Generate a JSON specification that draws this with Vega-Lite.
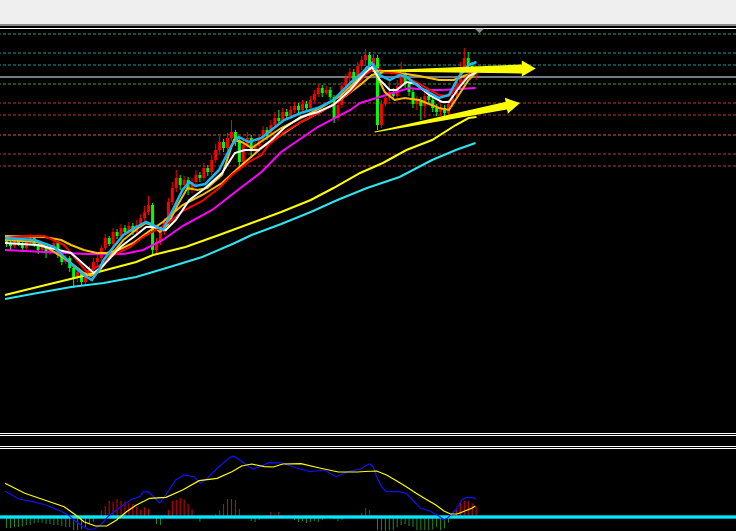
{
"$schema": "https://vega.github.io/schema/vega-lite/v6.json",
"width": 736, "height": 507,
"autosize": {"type": "none"},
"padding": {"top": 24, "left": 0, "right": 0, "bottom": 0},
"background": "#efefef",
"config": {"view": {"fill": "#000000", "stroke": null}, "axis": {"disable": true}},
"datasets": {
"candles": [
{"k":0,"o":1760,"h":1763,"l":1753,"c":1757},{"k":1,"o":1757,"h":1759,"l":1750,"c":1754},{"k":2,"o":1754,"h":1764,"l":1752,"c":1760},{"k":3,"o":1760,"h":1762,"l":1754,"c":1756},{"k":4,"o":1756,"h":1758,"l":1748,"c":1752},{"k":5,"o":1752,"h":1761,"l":1750,"c":1758},{"k":6,"o":1758,"h":1766,"l":1756,"c":1762},{"k":7,"o":1762,"h":1764,"l":1753,"c":1756},{"k":8,"o":1756,"h":1758,"l":1746,"c":1750},{"k":9,"o":1750,"h":1757,"l":1748,"c":1754},
{"k":10,"o":1754,"h":1756,"l":1742,"c":1748},{"k":11,"o":1748,"h":1755,"l":1745,"c":1753},{"k":12,"o":1753,"h":1760,"l":1751,"c":1757},{"k":13,"o":1757,"h":1759,"l":1742,"c":1745},{"k":14,"o":1745,"h":1748,"l":1735,"c":1738},{"k":15,"o":1738,"h":1745,"l":1736,"c":1742},{"k":16,"o":1742,"h":1744,"l":1728,"c":1732},{"k":17,"o":1732,"h":1735,"l":1712,"c":1722},{"k":18,"o":1722,"h":1732,"l":1718,"c":1728},{"k":19,"o":1728,"h":1730,"l":1715,"c":1718},
{"k":20,"o":1718,"h":1728,"l":1715,"c":1725},{"k":21,"o":1725,"h":1734,"l":1722,"c":1730},{"k":22,"o":1730,"h":1742,"l":1727,"c":1738},{"k":23,"o":1738,"h":1748,"l":1735,"c":1742},{"k":24,"o":1742,"h":1755,"l":1738,"c":1752},{"k":25,"o":1752,"h":1766,"l":1750,"c":1762},{"k":26,"o":1762,"h":1764,"l":1754,"c":1756},{"k":27,"o":1756,"h":1772,"l":1753,"c":1768},{"k":28,"o":1768,"h":1771,"l":1761,"c":1764},{"k":29,"o":1764,"h":1776,"l":1761,"c":1772},
{"k":30,"o":1772,"h":1775,"l":1765,"c":1768},{"k":31,"o":1768,"h":1778,"l":1766,"c":1774},{"k":32,"o":1774,"h":1777,"l":1765,"c":1768},{"k":33,"o":1768,"h":1780,"l":1766,"c":1775},{"k":34,"o":1775,"h":1786,"l":1772,"c":1782},{"k":35,"o":1782,"h":1794,"l":1779,"c":1788},{"k":36,"o":1788,"h":1804,"l":1785,"c":1795},{"k":37,"o":1795,"h":1797,"l":1745,"c":1750},{"k":38,"o":1750,"h":1762,"l":1746,"c":1758},{"k":39,"o":1758,"h":1772,"l":1755,"c":1768},
{"k":40,"o":1768,"h":1782,"l":1765,"c":1778},{"k":41,"o":1778,"h":1802,"l":1775,"c":1798},{"k":42,"o":1798,"h":1818,"l":1795,"c":1812},{"k":43,"o":1812,"h":1830,"l":1808,"c":1822},{"k":44,"o":1822,"h":1825,"l":1810,"c":1815},{"k":45,"o":1815,"h":1824,"l":1812,"c":1820},{"k":46,"o":1820,"h":1823,"l":1805,"c":1810},{"k":47,"o":1810,"h":1822,"l":1807,"c":1818},{"k":48,"o":1818,"h":1830,"l":1815,"c":1825},{"k":49,"o":1825,"h":1828,"l":1818,"c":1822},
{"k":50,"o":1822,"h":1837,"l":1819,"c":1832},{"k":51,"o":1832,"h":1835,"l":1824,"c":1828},{"k":52,"o":1828,"h":1845,"l":1825,"c":1840},{"k":53,"o":1840,"h":1856,"l":1837,"c":1850},{"k":54,"o":1850,"h":1864,"l":1847,"c":1858},{"k":55,"o":1858,"h":1861,"l":1848,"c":1852},{"k":56,"o":1852,"h":1867,"l":1849,"c":1862},{"k":57,"o":1862,"h":1880,"l":1859,"c":1868},{"k":58,"o":1868,"h":1870,"l":1854,"c":1860},{"k":59,"o":1860,"h":1862,"l":1832,"c":1838},
{"k":60,"o":1838,"h":1860,"l":1835,"c":1855},{"k":61,"o":1855,"h":1868,"l":1852,"c":1862},{"k":62,"o":1862,"h":1865,"l":1842,"c":1850},{"k":63,"o":1850,"h":1858,"l":1846,"c":1854},{"k":64,"o":1854,"h":1865,"l":1850,"c":1860},{"k":65,"o":1860,"h":1874,"l":1857,"c":1870},{"k":66,"o":1870,"h":1873,"l":1860,"c":1864},{"k":67,"o":1864,"h":1880,"l":1861,"c":1875},{"k":68,"o":1875,"h":1888,"l":1872,"c":1882},{"k":69,"o":1882,"h":1890,"l":1876,"c":1879},
{"k":70,"o":1879,"h":1892,"l":1877,"c":1888},{"k":71,"o":1888,"h":1891,"l":1880,"c":1884},{"k":72,"o":1884,"h":1894,"l":1881,"c":1890},{"k":73,"o":1890,"h":1898,"l":1887,"c":1894},{"k":74,"o":1894,"h":1897,"l":1887,"c":1890},{"k":75,"o":1890,"h":1900,"l":1887,"c":1896},{"k":76,"o":1896,"h":1899,"l":1888,"c":1892},{"k":77,"o":1892,"h":1904,"l":1889,"c":1900},{"k":78,"o":1900,"h":1910,"l":1897,"c":1906},{"k":79,"o":1906,"h":1916,"l":1903,"c":1912},
{"k":80,"o":1912,"h":1915,"l":1903,"c":1907},{"k":81,"o":1907,"h":1914,"l":1905,"c":1910},{"k":82,"o":1910,"h":1913,"l":1900,"c":1903},{"k":83,"o":1903,"h":1905,"l":1877,"c":1882},{"k":84,"o":1882,"h":1900,"l":1879,"c":1895},{"k":85,"o":1895,"h":1918,"l":1892,"c":1914},{"k":86,"o":1914,"h":1926,"l":1911,"c":1922},{"k":87,"o":1922,"h":1932,"l":1918,"c":1928},{"k":88,"o":1928,"h":1931,"l":1916,"c":1920},{"k":89,"o":1920,"h":1938,"l":1917,"c":1934},
{"k":90,"o":1934,"h":1944,"l":1930,"c":1940},{"k":91,"o":1940,"h":1951,"l":1936,"c":1945},{"k":92,"o":1945,"h":1948,"l":1930,"c":1934},{"k":93,"o":1934,"h":1946,"l":1930,"c":1942},{"k":94,"o":1942,"h":1945,"l":1870,"c":1875},{"k":95,"o":1875,"h":1900,"l":1872,"c":1896},{"k":96,"o":1896,"h":1906,"l":1893,"c":1902},{"k":97,"o":1902,"h":1920,"l":1899,"c":1908},{"k":98,"o":1908,"h":1912,"l":1900,"c":1904},{"k":99,"o":1904,"h":1920,"l":1901,"c":1914},
{"k":100,"o":1914,"h":1938,"l":1911,"c":1925},{"k":101,"o":1925,"h":1928,"l":1912,"c":1916},{"k":102,"o":1916,"h":1919,"l":1904,"c":1908},{"k":103,"o":1908,"h":1911,"l":1892,"c":1896},{"k":104,"o":1896,"h":1904,"l":1890,"c":1900},{"k":105,"o":1900,"h":1903,"l":1880,"c":1894},{"k":106,"o":1894,"h":1908,"l":1882,"c":1904},{"k":107,"o":1904,"h":1907,"l":1896,"c":1900},{"k":108,"o":1900,"h":1902,"l":1888,"c":1892},{"k":109,"o":1892,"h":1896,"l":1884,"c":1888},
{"k":110,"o":1888,"h":1896,"l":1884,"c":1892},{"k":111,"o":1892,"h":1895,"l":1883,"c":1887},{"k":112,"o":1887,"h":1900,"l":1882,"c":1896},{"k":113,"o":1896,"h":1910,"l":1893,"c":1905},{"k":114,"o":1905,"h":1922,"l":1902,"c":1918},{"k":115,"o":1918,"h":1938,"l":1915,"c":1930},{"k":116,"o":1930,"h":1952,"l":1928,"c":1942},{"k":117,"o":1942,"h":1948,"l":1930,"c":1934},{"k":118,"o":1934,"h":1938,"l":1922,"c":1926},{"k":119,"o":1926,"h":1934,"l":1920,"c":1930}
],
"levels": [
{"lv":1966,"kind":"a"},{"lv":1947,"kind":"b"},{"lv":1935,"kind":"b"},{"lv":1916,"kind":"c"},{"lv":1897,"kind":"d"},{"lv":1885,"kind":"d"},{"lv":1865,"kind":"e"},{"lv":1846,"kind":"f"},{"lv":1834,"kind":"f"}
],
"ma_mag": [
{"x":-0.4,"v":1750},{"x":9.6,"v":1748},{"x":20.35,"v":1746},{"x":29.6,"v":1746},{"x":34.6,"v":1750},{"x":39.6,"v":1760},{"x":44.6,"v":1774},{"x":52.1,"v":1790},{"x":56.35,"v":1803},{"x":59.6,"v":1813},{"x":64.6,"v":1828},{"x":69.6,"v":1848},{"x":78.85,"v":1873},{"x":87.1,"v":1890},{"x":89.6,"v":1897},{"x":94.6,"v":1903},{"x":97.85,"v":1907},{"x":102.1,"v":1912},{"x":106.35,"v":1910},{"x":110.35,"v":1910},{"x":114.6,"v":1911},{"x":118.85,"v":1912}
],
"ma_yel": [
{"x":-0.4,"v":1705},{"x":7.85,"v":1713},{"x":20.35,"v":1725},{"x":32.85,"v":1738},{"x":37.1,"v":1745},{"x":45.35,"v":1753},{"x":53.85,"v":1765},{"x":62.1,"v":1777},{"x":69.6,"v":1788},{"x":77.1,"v":1800},{"x":82.85,"v":1812},{"x":89.6,"v":1827},{"x":95.35,"v":1837},{"x":101.35,"v":1850},{"x":107.85,"v":1860},{"x":113.85,"v":1875},{"x":117.1,"v":1882},{"x":119.1,"v":1883}
],
"ma_cya": [
{"x":-0.4,"v":1701},{"x":7.85,"v":1707},{"x":16.35,"v":1713},{"x":24.6,"v":1717},{"x":32.85,"v":1723},{"x":41.35,"v":1733},{"x":49.6,"v":1743},{"x":57.85,"v":1757},{"x":62.1,"v":1765},{"x":69.6,"v":1776},{"x":77.1,"v":1788},{"x":83.85,"v":1800},{"x":91.35,"v":1812},{"x":99.6,"v":1823},{"x":107.85,"v":1840},{"x":113.85,"v":1850},{"x":118.85,"v":1857}
],
"ma_gold1": [
{"x":-0.4,"v":1764},{"x":9.6,"v":1763},{"x":13.85,"v":1760},{"x":16.35,"v":1755},{"x":19.6,"v":1750},{"x":22.85,"v":1747},{"x":25.35,"v":1747},{"x":28.35,"v":1750},{"x":32.1,"v":1757},{"x":35.85,"v":1768},{"x":39.6,"v":1778},{"x":44.6,"v":1795},{"x":49.6,"v":1805},{"x":54.6,"v":1817},{"x":59.6,"v":1835},{"x":64.6,"v":1852},{"x":69.6,"v":1865},{"x":74.6,"v":1878},{"x":79.6,"v":1888},{"x":84.6,"v":1900},{"x":89.6,"v":1915},{"x":92.6,"v":1925},{"x":95.85,"v":1928},{"x":99.6,"v":1927},{"x":104.6,"v":1924},{"x":109.6,"v":1920},{"x":113.35,"v":1920},{"x":115.85,"v":1924},{"x":119.1,"v":1928}
],
"ma_gold2": [
{"x":-0.4,"v":1760},{"x":7.85,"v":1758},{"x":12.1,"v":1748},{"x":16.35,"v":1737},{"x":19.6,"v":1727},{"x":21.35,"v":1724},{"x":23.35,"v":1728},{"x":25.85,"v":1742},{"x":29.6,"v":1760},{"x":33.35,"v":1772},{"x":35.35,"v":1777},{"x":37.1,"v":1774},{"x":38.85,"v":1768},{"x":40.85,"v":1775},{"x":43.35,"v":1795},{"x":45.85,"v":1812},{"x":48.35,"v":1810},{"x":50.85,"v":1812},{"x":54.6,"v":1825},{"x":57.6,"v":1860},{"x":59.6,"v":1858},{"x":62.1,"v":1852},{"x":65.85,"v":1862},{"x":69.6,"v":1872},{"x":74.6,"v":1882},{"x":79.6,"v":1892},{"x":84.6,"v":1904},{"x":88.35,"v":1918},{"x":91.35,"v":1933},{"x":93.35,"v":1928},{"x":95.85,"v":1908},{"x":98.35,"v":1900},{"x":100.85,"v":1902},{"x":104.6,"v":1900},{"x":109.6,"v":1892},{"x":112.1,"v":1890},{"x":114.6,"v":1905},{"x":117.1,"v":1920},{"x":119.1,"v":1928}
],
"ma_red": [
{"x":-0.4,"v":1762},{"x":4.6,"v":1764},{"x":9.6,"v":1764},{"x":14.6,"v":1755},{"x":20.35,"v":1728},{"x":23.85,"v":1735},{"x":27.1,"v":1745},{"x":31.35,"v":1753},{"x":34.6,"v":1763},{"x":37.85,"v":1770},{"x":41.35,"v":1778},{"x":44.6,"v":1789},{"x":49.6,"v":1799},{"x":53.85,"v":1812},{"x":57.1,"v":1825},{"x":61.35,"v":1838},{"x":64.6,"v":1845},{"x":66.35,"v":1855},{"x":70.35,"v":1868},{"x":74.6,"v":1878},{"x":78.85,"v":1887},{"x":82.85,"v":1895},{"x":87.1,"v":1908},{"x":90.85,"v":1925},{"x":93.35,"v":1932},{"x":95.85,"v":1928},{"x":99.6,"v":1926},{"x":104.6,"v":1916},{"x":109.6,"v":1905},{"x":112.1,"v":1904},{"x":114.6,"v":1915},{"x":117.1,"v":1925},{"x":119.1,"v":1930}
],
"ma_white": [
{"x":-0.4,"v":1757},{"x":7.85,"v":1755},{"x":16.35,"v":1747},{"x":20.35,"v":1733},{"x":22.1,"v":1727},{"x":24.6,"v":1735},{"x":28.85,"v":1753},{"x":32.85,"v":1765},{"x":35.35,"v":1773},{"x":37.85,"v":1773},{"x":40.35,"v":1770},{"x":42.85,"v":1780},{"x":46.35,"v":1800},{"x":50.35,"v":1812},{"x":54.6,"v":1827},{"x":57.85,"v":1847},{"x":60.35,"v":1850},{"x":63.85,"v":1850},{"x":67.1,"v":1860},{"x":70.35,"v":1872},{"x":74.6,"v":1883},{"x":78.85,"v":1888},{"x":82.85,"v":1895},{"x":87.1,"v":1910},{"x":90.85,"v":1927},{"x":92.6,"v":1933},{"x":94.6,"v":1920},{"x":97.1,"v":1910},{"x":98.85,"v":1910},{"x":101.35,"v":1918},{"x":103.85,"v":1916},{"x":107.1,"v":1905},{"x":110.35,"v":1898},{"x":112.1,"v":1898},{"x":114.6,"v":1912},{"x":117.1,"v":1924},{"x":119.1,"v":1928}
],
"ma_dsb": [
{"x":-0.4,"v":1762},{"x":7.1,"v":1760},{"x":12.1,"v":1753},{"x":15.85,"v":1738},{"x":19.6,"v":1725},{"x":21.6,"v":1720},{"x":23.35,"v":1730},{"x":24.6,"v":1740},{"x":27.1,"v":1753},{"x":29.6,"v":1765},{"x":32.85,"v":1773},{"x":35.35,"v":1778},{"x":37.1,"v":1775},{"x":39.6,"v":1770},{"x":42.1,"v":1790},{"x":44.6,"v":1810},{"x":46.35,"v":1818},{"x":47.85,"v":1814},{"x":50.35,"v":1816},{"x":53.85,"v":1830},{"x":57.1,"v":1855},{"x":58.85,"v":1863},{"x":61.35,"v":1858},{"x":64.6,"v":1862},{"x":67.1,"v":1870},{"x":70.35,"v":1880},{"x":74.6,"v":1887},{"x":78.85,"v":1892},{"x":82.85,"v":1900},{"x":87.1,"v":1917},{"x":90.35,"v":1928},{"x":92.6,"v":1937},{"x":94.6,"v":1925},{"x":97.1,"v":1920},{"x":99.6,"v":1925},{"x":101.35,"v":1923},{"x":104.6,"v":1913},{"x":109.6,"v":1902},{"x":112.1,"v":1905},{"x":114.6,"v":1923},{"x":117.1,"v":1935},{"x":119.1,"v":1938}
],
"arrows": [
{"a":"A1","x":93.35,"v":1929,"w":1},{"a":"A1","x":130.35,"v":1931,"w":9},
{"a":"A2","x":93.35,"v":1868,"w":1},{"a":"A2","x":127.35,"v":1894.8,"w":8}
],
"head1": [{"x":132.35,"v":1931.5}],
"head2": [{"x":128.4,"v":1895.6}],
"topline": [{"v":1975}],
"whiteline": [{"v":1971.5}],
"marker": [{"x":119.85,"v":1969}],
"sep": [{"v":83.5},{"v":81.5},{"v":70.5},{"v":68.5}],
"hist": [
{"k":0,"h":-11},{"k":1,"h":-11},{"k":2,"h":-10},{"k":3,"h":-10},{"k":4,"h":-9.5},{"k":5,"h":-8},{"k":6,"h":-8},{"k":7,"h":-6.3},{"k":8,"h":-5.7},{"k":9,"h":-5.7},
{"k":10,"h":-7},{"k":11,"h":-7},{"k":12,"h":-8},{"k":13,"h":-8},{"k":14,"h":-9},{"k":15,"h":-10},{"k":16,"h":-10},{"k":17,"h":-13},{"k":18,"h":-13},{"k":19,"h":-12},
{"k":20,"h":-10},{"k":21,"h":-7},{"k":22,"h":-5},{"k":23,"h":-1},{"k":24,"h":6.3},{"k":25,"h":11},{"k":26,"h":16},{"k":27,"h":15},{"k":28,"h":17.7},{"k":29,"h":16},
{"k":30,"h":15.3},{"k":31,"h":13.7},{"k":32,"h":12.7},{"k":33,"h":10.3},{"k":34,"h":7},{"k":35,"h":9.7},{"k":36,"h":7.7},{"k":37,"h":0.5},{"k":38,"h":-7},{"k":39,"h":-8},
{"k":40,"h":0.2},{"k":41,"h":7},{"k":42,"h":16},{"k":43,"h":17},{"k":44,"h":19.3},{"k":45,"h":17.7},{"k":46,"h":13},{"k":47,"h":7.7},{"k":48,"h":0.5},{"k":49,"h":-4.7},
{"k":50,"h":-0.5},{"k":51,"h":0},{"k":52,"h":0.3},{"k":53,"h":3},{"k":54,"h":7},{"k":55,"h":13},{"k":56,"h":18},{"k":57,"h":18},{"k":58,"h":17},{"k":59,"h":8},
{"k":60,"h":0.2},{"k":61,"h":-1},{"k":62,"h":-4},{"k":63,"h":-5},{"k":64,"h":-3},{"k":65,"h":-0.5},{"k":66,"h":0.2},{"k":67,"h":5},{"k":68,"h":3.3},{"k":69,"h":5},
{"k":70,"h":2},{"k":71,"h":0.2},{"k":72,"h":-0.5},{"k":73,"h":-3},{"k":74,"h":-5},{"k":75,"h":-4},{"k":76,"h":-6},{"k":77,"h":-5},{"k":78,"h":-4},{"k":79,"h":-5},
{"k":80,"h":-3},{"k":81,"h":-0.5},{"k":82,"h":-0.5},{"k":83,"h":-2},{"k":84,"h":-4},{"k":85,"h":-3},{"k":86,"h":-0.2},{"k":87,"h":0},{"k":88,"h":0.2},{"k":89,"h":0.5},
{"k":90,"h":4},{"k":91,"h":9},{"k":92,"h":7},{"k":93,"h":1},{"k":94,"h":-13},{"k":95,"h":-13.7},{"k":96,"h":-13.7},{"k":97,"h":-13},{"k":98,"h":-13},{"k":99,"h":-10.3},
{"k":100,"h":-8},{"k":101,"h":-7},{"k":102,"h":-9},{"k":103,"h":-9.7},{"k":104,"h":-13},{"k":105,"h":-13},{"k":106,"h":-13},{"k":107,"h":-13},{"k":108,"h":-12.3},{"k":109,"h":-10.3},
{"k":110,"h":-13},{"k":111,"h":-11.3},{"k":112,"h":-5.7},{"k":113,"h":0.2},{"k":114,"h":7},{"k":115,"h":14},{"k":116,"h":16.3},{"k":117,"h":16.3},{"k":118,"h":13.7},{"k":119,"h":10.3}
],
"macd": [
{"x":-0.4,"v":26},{"x":3.1,"v":18},{"x":6.6,"v":15.3},{"x":10.1,"v":12},{"x":13.6,"v":6},{"x":15.6,"v":2},{"x":17.1,"v":-3},{"x":19.1,"v":-9},{"x":20.85,"v":-12.5},{"x":22.35,"v":-12},{"x":24.1,"v":-7},{"x":25.85,"v":1},{"x":27.8,"v":7},{"x":29.6,"v":12},{"x":31.3,"v":17},{"x":33.8,"v":20.5},{"x":34.6,"v":25},{"x":35.85,"v":25.3},{"x":37.1,"v":21},{"x":38.8,"v":14},{"x":40.35,"v":22},{"x":42.85,"v":37},{"x":45,"v":42},{"x":47.5,"v":40.3},{"x":49.2,"v":33.7},{"x":50.85,"v":38.7},{"x":53.8,"v":50.3},{"x":56.3,"v":58.7},{"x":57.5,"v":61},{"x":59.1,"v":57},{"x":60.85,"v":52},{"x":62.35,"v":48},{"x":64.6,"v":51},{"x":66.5,"v":54.3},{"x":70,"v":54},{"x":73.5,"v":49},{"x":77,"v":45.3},{"x":80.6,"v":47},{"x":83.5,"v":40.3},{"x":86.45,"v":45.3},{"x":89.6,"v":47.7},{"x":91.3,"v":52},{"x":92.1,"v":53},{"x":92.9,"v":50.3},{"x":93.8,"v":40.3},{"x":95,"v":30.3},{"x":96.3,"v":25.3},{"x":99.6,"v":25.3},{"x":101.3,"v":23.7},{"x":102.9,"v":17},{"x":105,"v":8.7},{"x":107.1,"v":6.3},{"x":109.2,"v":2},{"x":110.85,"v":-3},{"x":111.7,"v":-1.3},{"x":113.8,"v":7},{"x":115.4,"v":17},{"x":116.3,"v":19.3},{"x":118.4,"v":19.3},{"x":118.8,"v":18}
],
"signal": [
{"x":-0.4,"v":33.7},{"x":4.6,"v":23.7},{"x":9.6,"v":17},{"x":14.6,"v":10.3},{"x":17.5,"v":2},{"x":19.6,"v":-4.7},{"x":22.5,"v":-9},{"x":25.4,"v":-9},{"x":27.9,"v":-3},{"x":30.4,"v":5.3},{"x":32.9,"v":12},{"x":36.3,"v":18.7},{"x":40.4,"v":19.7},{"x":44.6,"v":27},{"x":48.8,"v":36.3},{"x":53.35,"v":38.7},{"x":57.1,"v":45.3},{"x":59.6,"v":51},{"x":62.1,"v":53},{"x":65.35,"v":50.3},{"x":67.6,"v":50},{"x":70,"v":53},{"x":74.6,"v":53.3},{"x":79.35,"v":49},{"x":84.1,"v":45},{"x":88.85,"v":45},{"x":90.85,"v":45.5},{"x":93.8,"v":46},{"x":96.3,"v":42},{"x":98.8,"v":36.3},{"x":101.3,"v":30.3},{"x":103.8,"v":23.7},{"x":106.3,"v":17.7},{"x":108.8,"v":12},{"x":110.85,"v":6},{"x":112.5,"v":3},{"x":114.2,"v":3},{"x":116.3,"v":6.3},{"x":117.9,"v":8.7},{"x":118.8,"v":11}
]
},
"resolve": {"scale": {"y": "independent"}},
"layer": [
{
"layer": [
{"data": {"name": "levels"},
 "mark": {"type": "rule", "strokeWidth": 1, "strokeDash": [3, 2]},
 "encoding": {
  "y": {"field": "lv", "type": "quantitative", "scale": {"domain": [1469, 1976], "nice": false, "zero": false}, "axis": null},
  "color": {"field": "kind", "type": "nominal", "legend": null,
   "scale": {"domain": ["a","b","c","d","e","f"], "range": ["#3a9c72","#23979a","#3c9e3c","#b23a3a","#c8642e","#b33848"]}}
 }},
{"data": {"name": "topline"}, "mark": {"type": "rule", "color": "#8a8a8a", "strokeWidth": 2},
 "encoding": {"y": {"field": "v", "type": "quantitative", "scale": {"domain": [1469, 1976], "nice": false, "zero": false}, "axis": null}}},
{"data": {"name": "whiteline"}, "mark": {"type": "rule", "color": "#ffffff", "strokeWidth": 1},
 "encoding": {"y": {"field": "v", "type": "quantitative", "scale": {"domain": [1469, 1976], "nice": false, "zero": false}, "axis": null}}},
{"data": {"name": "whiteline"}, "mark": {"type": "rule", "color": "#9aa4ae", "strokeWidth": 1.5},
 "encoding": {"y": {"datum": 1923, "type": "quantitative", "scale": {"domain": [1469, 1976], "nice": false, "zero": false}, "axis": null}}},
{"data": {"name": "marker"}, "mark": {"type": "point", "filled": true, "color": "#7d8790", "opacity": 1, "shape": "M-1,-0.5L1,-0.5L0,0.5Z", "size": 81},
 "encoding": {
  "x": {"field": "x", "type": "quantitative", "scale": {"domain": [-0.4, 183.6], "nice": false, "zero": false}, "axis": null},
  "y": {"field": "v", "type": "quantitative", "scale": {"domain": [1469, 1976], "nice": false, "zero": false}, "axis": null}}},
{"data": {"name": "candles"}, "mark": {"type": "rule", "strokeWidth": 1},
 "encoding": {
  "x": {"field": "k", "type": "quantitative", "scale": {"domain": [-0.4, 183.6], "nice": false, "zero": false}, "axis": null},
  "y": {"field": "l", "type": "quantitative", "scale": {"domain": [1469, 1976], "nice": false, "zero": false}, "axis": null},
  "y2": {"field": "h"},
  "color": {"condition": {"test": "datum.c >= datum.o", "value": "#ff0000"}, "value": "#00ff00"}}},
{"data": {"name": "candles"}, "mark": {"type": "bar", "size": 3},
 "encoding": {
  "x": {"field": "k", "type": "quantitative", "scale": {"domain": [-0.4, 183.6], "nice": false, "zero": false}, "axis": null},
  "y": {"field": "o", "type": "quantitative", "scale": {"domain": [1469, 1976], "nice": false, "zero": false}, "axis": null},
  "y2": {"field": "c"},
  "color": {"condition": {"test": "datum.c >= datum.o", "value": "#ff0000"}, "value": "#00ff00"}}},
{"data": {"name": "ma_mag"}, "mark": {"type": "line", "color": "#ff00ff", "strokeWidth": 2},
 "encoding": {"x": {"field": "x", "type": "quantitative", "scale": {"domain": [-0.4, 183.6], "nice": false, "zero": false}, "axis": null},
  "y": {"field": "v", "type": "quantitative", "scale": {"domain": [1469, 1976], "nice": false, "zero": false}, "axis": null}}},
{"data": {"name": "ma_yel"}, "mark": {"type": "line", "color": "#ffff00", "strokeWidth": 2},
 "encoding": {"x": {"field": "x", "type": "quantitative", "scale": {"domain": [-0.4, 183.6], "nice": false, "zero": false}, "axis": null},
  "y": {"field": "v", "type": "quantitative", "scale": {"domain": [1469, 1976], "nice": false, "zero": false}, "axis": null}}},
{"data": {"name": "ma_cya"}, "mark": {"type": "line", "color": "#2ee6f0", "strokeWidth": 2},
 "encoding": {"x": {"field": "x", "type": "quantitative", "scale": {"domain": [-0.4, 183.6], "nice": false, "zero": false}, "axis": null},
  "y": {"field": "v", "type": "quantitative", "scale": {"domain": [1469, 1976], "nice": false, "zero": false}, "axis": null}}},
{"data": {"name": "ma_gold1"}, "mark": {"type": "line", "color": "#ffc000", "strokeWidth": 2},
 "encoding": {"x": {"field": "x", "type": "quantitative", "scale": {"domain": [-0.4, 183.6], "nice": false, "zero": false}, "axis": null},
  "y": {"field": "v", "type": "quantitative", "scale": {"domain": [1469, 1976], "nice": false, "zero": false}, "axis": null}}},
{"data": {"name": "ma_gold2"}, "mark": {"type": "line", "color": "#f5b800", "strokeWidth": 2},
 "encoding": {"x": {"field": "x", "type": "quantitative", "scale": {"domain": [-0.4, 183.6], "nice": false, "zero": false}, "axis": null},
  "y": {"field": "v", "type": "quantitative", "scale": {"domain": [1469, 1976], "nice": false, "zero": false}, "axis": null}}},
{"data": {"name": "ma_red"}, "mark": {"type": "line", "color": "#ff0000", "strokeWidth": 2},
 "encoding": {"x": {"field": "x", "type": "quantitative", "scale": {"domain": [-0.4, 183.6], "nice": false, "zero": false}, "axis": null},
  "y": {"field": "v", "type": "quantitative", "scale": {"domain": [1469, 1976], "nice": false, "zero": false}, "axis": null}}},
{"data": {"name": "ma_white"}, "mark": {"type": "line", "color": "#ffffff", "strokeWidth": 2},
 "encoding": {"x": {"field": "x", "type": "quantitative", "scale": {"domain": [-0.4, 183.6], "nice": false, "zero": false}, "axis": null},
  "y": {"field": "v", "type": "quantitative", "scale": {"domain": [1469, 1976], "nice": false, "zero": false}, "axis": null}}},
{"data": {"name": "ma_dsb"}, "mark": {"type": "line", "color": "#1ab8f0", "strokeWidth": 2.5},
 "encoding": {"x": {"field": "x", "type": "quantitative", "scale": {"domain": [-0.4, 183.6], "nice": false, "zero": false}, "axis": null},
  "y": {"field": "v", "type": "quantitative", "scale": {"domain": [1469, 1976], "nice": false, "zero": false}, "axis": null}}},
{"data": {"name": "arrows"}, "mark": {"type": "trail", "color": "#ffff00"},
 "encoding": {"x": {"field": "x", "type": "quantitative", "scale": {"domain": [-0.4, 183.6], "nice": false, "zero": false}, "axis": null},
  "y": {"field": "v", "type": "quantitative", "scale": {"domain": [1469, 1976], "nice": false, "zero": false}, "axis": null},
  "size": {"field": "w", "type": "quantitative", "scale": null, "legend": null},
  "detail": {"field": "a", "type": "nominal"}}},
{"data": {"name": "head1"}, "mark": {"type": "point", "shape": "triangle-right", "filled": true, "color": "#ffff00", "opacity": 1, "size": 260, "angle": 0},
 "encoding": {"x": {"field": "x", "type": "quantitative", "scale": {"domain": [-0.4, 183.6], "nice": false, "zero": false}, "axis": null},
  "y": {"field": "v", "type": "quantitative", "scale": {"domain": [1469, 1976], "nice": false, "zero": false}, "axis": null}}},
{"data": {"name": "head2"}, "mark": {"type": "point", "shape": "triangle-right", "filled": true, "color": "#ffff00", "opacity": 1, "size": 260, "angle": 349},
 "encoding": {"x": {"field": "x", "type": "quantitative", "scale": {"domain": [-0.4, 183.6], "nice": false, "zero": false}, "axis": null},
  "y": {"field": "v", "type": "quantitative", "scale": {"domain": [1469, 1976], "nice": false, "zero": false}, "axis": null}}}
]
},
{
"layer": [
{"data": {"name": "sep"}, "mark": {"type": "rule", "color": "#ffffff", "strokeWidth": 1.2},
 "encoding": {"y": {"field": "v", "type": "quantitative", "scale": {"domain": [-14, 493], "nice": false, "zero": false}, "axis": null}}},
{"data": {"name": "hist"}, "mark": {"type": "rule", "strokeWidth": 1},
 "encoding": {
  "x": {"field": "k", "type": "quantitative", "scale": {"domain": [-0.4, 183.6], "nice": false, "zero": false}, "axis": null},
  "y": {"field": "h", "type": "quantitative", "scale": {"domain": [-14, 493], "nice": false, "zero": false}, "axis": null},
  "y2": {"datum": 0},
  "color": {"condition": {"test": "datum.h >= 0", "value": "#e80000"}, "value": "#228b22"}}},
{"data": {"name": "sep"}, "mark": {"type": "rule", "color": "#00e8ff", "strokeWidth": 2.5},
 "encoding": {"y": {"datum": 0, "type": "quantitative", "scale": {"domain": [-14, 493], "nice": false, "zero": false}, "axis": null}}},
{"data": {"name": "macd"}, "mark": {"type": "line", "color": "#1010ff", "strokeWidth": 1.2},
 "encoding": {"x": {"field": "x", "type": "quantitative", "scale": {"domain": [-0.4, 183.6], "nice": false, "zero": false}, "axis": null},
  "y": {"field": "v", "type": "quantitative", "scale": {"domain": [-14, 493], "nice": false, "zero": false}, "axis": null}}},
{"data": {"name": "signal"}, "mark": {"type": "line", "color": "#ffff00", "strokeWidth": 1.2},
 "encoding": {"x": {"field": "x", "type": "quantitative", "scale": {"domain": [-0.4, 183.6], "nice": false, "zero": false}, "axis": null},
  "y": {"field": "v", "type": "quantitative", "scale": {"domain": [-14, 493], "nice": false, "zero": false}, "axis": null}}}
]
}
]
}
